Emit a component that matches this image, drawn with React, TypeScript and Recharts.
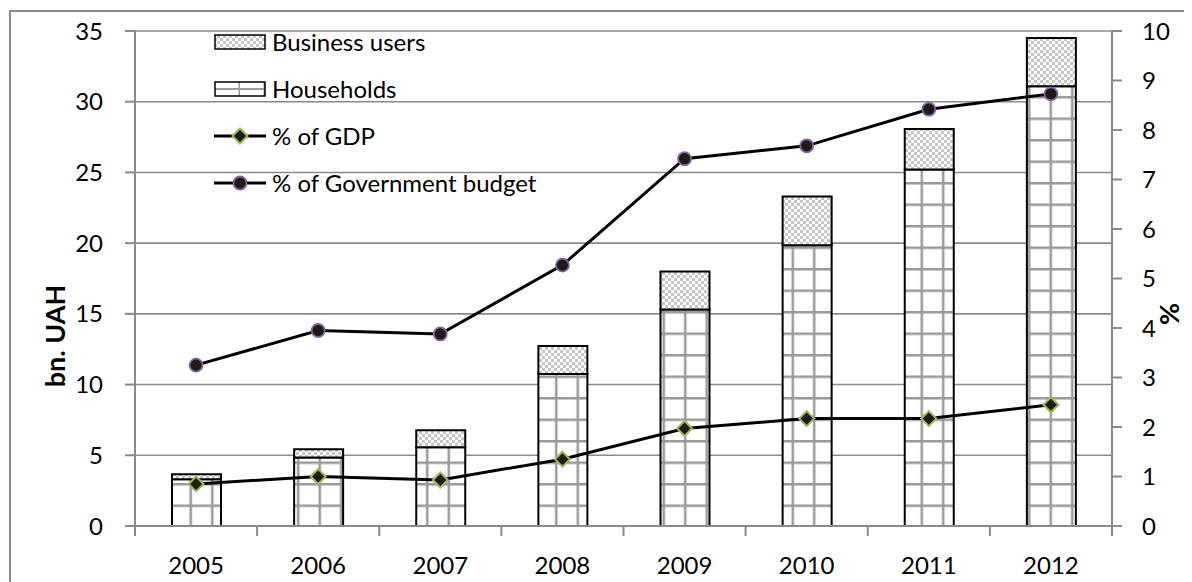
import { ComposedChart, Bar, Line, XAxis, YAxis, CartesianGrid } from 'recharts';

const years = ['2005', '2006', '2007', '2008', '2009', '2010', '2011', '2012'];
const households = [3.3, 4.84, 5.57, 10.74, 15.3, 19.85, 25.2, 31.1];
const businessUsers = [0.36, 0.59, 1.2, 1.98, 2.7, 3.45, 2.87, 3.4];
const gdpShare = [0.85, 1.0, 0.93, 1.35, 1.97, 2.17, 2.17, 2.45];
const budgetShare = [3.25, 3.95, 3.88, 5.27, 7.42, 7.68, 8.42, 8.73];
const leftTicks = [0, 5, 10, 15, 20, 25, 30, 35];
const rightTicks = [0, 1, 2, 3, 4, 5, 6, 7, 8, 9, 10];

const data = years.map((year, i) => ({
  year,
  households: households[i],
  business: businessUsers[i],
  gdp: gdpShare[i],
  budget: budgetShare[i],
}));

const W = 1184;
const H = 574;
const LEFT_W = 127;
const RIGHT_W = 80;
const TOP = 23;
const X_H = 56;
const BAND = (W - LEFT_W - RIGHT_W) / years.length;
const FONT = 'Lato, "Open Sans", sans-serif';
const AXIS_GRAY = '#8a8a8a';
const CELL = 21.5;

const Diamond = (props: any) => {
  const { cx, cy } = props;
  if (cx == null || cy == null) return null;
  const r = 7.5;
  return (
    <polygon
      points={`${cx},${cy - r} ${cx + r},${cy} ${cx},${cy + r} ${cx - r},${cy}`}
      fill="#1d1d12"
      stroke="#9bbb59"
      strokeWidth={2}
    />
  );
};

const Circle = (props: any) => {
  const { cx, cy } = props;
  if (cx == null || cy == null) return null;
  return <circle cx={cx} cy={cy} r={6.5} fill="#1f1a17" stroke="#8064a2" strokeWidth={1.8} />;
};

const YearTick = (props: any) => {
  const { x, y, payload, index } = props;
  const last = index === years.length - 1;
  return (
    <g>
      <line x1={x - BAND / 2} y1={y} x2={x - BAND / 2} y2={y + 10} stroke={AXIS_GRAY} strokeWidth={2} />
      {last && <line x1={x + BAND / 2} y1={y} x2={x + BAND / 2} y2={y + 10} stroke={AXIS_GRAY} strokeWidth={2} />}
      <text x={x} y={y + 48} textAnchor="middle" fontSize={24} fontFamily={FONT} fill="#000">
        {payload.value}
      </text>
    </g>
  );
};

const legendRows = [
  { label: 'Business users', kind: 'bar', fill: 'url(#checker)' },
  { label: 'Households', kind: 'bar', fill: 'url(#gridLegend)' },
  { label: '% of GDP', kind: 'diamond' },
  { label: '% of Government budget', kind: 'circle' },
];

const LegendBox = () => (
  <div
    style={{
      position: 'absolute',
      left: 206,
      top: 10,
      fontFamily: FONT,
      fontSize: 24,
      color: '#000',
      lineHeight: '47px',
    }}
  >
    {legendRows.map((row) => (
      <div key={row.label} style={{ display: 'flex', alignItems: 'center', height: 47 }}>
        <svg width={54} height={20} style={{ marginRight: 4 }}>
          {row.kind === 'bar' && (
            <rect x={1} y={3} width={50} height={14} fill={row.fill} stroke="#000" strokeWidth={1.5} />
          )}
          {row.kind !== 'bar' && <line x1={0} y1={10} x2={52} y2={10} stroke="#000" strokeWidth={3} />}
          {row.kind === 'diamond' && <Diamond cx={26} cy={10} />}
          {row.kind === 'circle' && <Circle cx={26} cy={10} />}
        </svg>
        <span>{row.label}</span>
      </div>
    ))}
  </div>
);

export default function App() {
  return (
    <div style={{ position: 'relative', width: W, height: H, overflow: 'hidden', background: '#fff' }}>
      <div
        style={{
          position: 'absolute',
          left: 1,
          top: 2,
          width: W + 40,
          height: H + 40,
          border: `2px solid ${AXIS_GRAY}`,
          boxSizing: 'border-box',
        }}
      />
      <ComposedChart
        width={W}
        height={H}
        data={data}
        margin={{ top: TOP, right: 0, bottom: 0, left: 0 }}
        barSize={49}
        style={{ position: 'absolute', left: 0, top: 0 }}
      >
        <defs>
          <pattern id="checker" width={6} height={6} patternUnits="userSpaceOnUse">
            <rect width={6} height={6} fill="#ffffff" />
            <rect width={3} height={3} fill="#c6c6c6" />
            <rect x={3} y={3} width={3} height={3} fill="#c6c6c6" />
          </pattern>
          <pattern id="grid" width={CELL} height={CELL} x={0} y={H - X_H} patternUnits="userSpaceOnUse">
            <rect width={CELL} height={CELL} fill="#ffffff" />
            <line x1={0} y1={0} x2={CELL} y2={0} stroke="#999999" strokeWidth={5} />
            <line x1={CELL / 2} y1={0} x2={CELL / 2} y2={CELL} stroke="#999999" strokeWidth={2.5} />
          </pattern>
          <pattern id="gridLegend" width={25} height={14} patternUnits="userSpaceOnUse" x={1} y={3}>
            <rect width={25} height={14} fill="#ffffff" />
            <line x1={0} y1={7} x2={25} y2={7} stroke="#9a9a9a" strokeWidth={2} />
            <line x1={25} y1={0} x2={25} y2={14} stroke="#9a9a9a" strokeWidth={3} />
          </pattern>
        </defs>
        <CartesianGrid yAxisId="left" vertical={false} stroke={AXIS_GRAY} strokeWidth={1.6} />
        <XAxis
          dataKey="year"
          height={X_H}
          stroke={AXIS_GRAY}
          strokeWidth={2}
          tickLine={false}
          tickSize={0}
          tickMargin={0}
          tick={<YearTick />}
          interval={0}
        />
        <YAxis
          yAxisId="left"
          orientation="left"
          width={LEFT_W}
          domain={[0, 35]}
          ticks={leftTicks}
          interval={0}
          stroke={AXIS_GRAY}
          strokeWidth={2}
          tickSize={10}
          tickMargin={22}
          tick={{ fill: '#000', fontSize: 24, fontFamily: FONT }}
          label={{
            content: () => (
              <text
                x={0}
                y={0}
                transform="translate(46,328) rotate(-90)"
                textAnchor="middle"
                dominantBaseline="central"
                fontSize={27}
                fontWeight="bold"
                fontFamily={FONT}
                fill="#000"
              >
                bn. UAH
              </text>
            ),
          }}
        />
        <YAxis
          yAxisId="right"
          orientation="right"
          width={RIGHT_W}
          domain={[0, 10]}
          ticks={rightTicks}
          interval={0}
          stroke={AXIS_GRAY}
          strokeWidth={2}
          tickSize={10}
          tickMargin={20}
          tick={{ fill: '#000', fontSize: 24, fontFamily: FONT, textAnchor: 'start' }}
          label={{
            content: () => (
              <text
                x={0}
                y={0}
                transform="translate(1160,306) rotate(-90)"
                textAnchor="middle"
                dominantBaseline="central"
                fontSize={27}
                fontWeight="bold"
                fontFamily={FONT}
                fill="#000"
              >
                %
              </text>
            ),
          }}
        />
        <Bar
          yAxisId="left"
          dataKey="households"
          stackId="a"
          fill="url(#grid)"
          stroke="#000"
          strokeWidth={2}
          isAnimationActive={false}
        />
        <Bar
          yAxisId="left"
          dataKey="business"
          stackId="a"
          fill="url(#checker)"
          stroke="#000"
          strokeWidth={2}
          isAnimationActive={false}
        />
        <Line
          yAxisId="right"
          dataKey="gdp"
          type="linear"
          stroke="#000"
          strokeWidth={3}
          dot={<Diamond />}
          activeDot={false}
          isAnimationActive={false}
        />
        <Line
          yAxisId="right"
          dataKey="budget"
          type="linear"
          stroke="#000"
          strokeWidth={3}
          dot={<Circle />}
          activeDot={false}
          isAnimationActive={false}
        />
      </ComposedChart>
      <LegendBox />
    </div>
  );
}
